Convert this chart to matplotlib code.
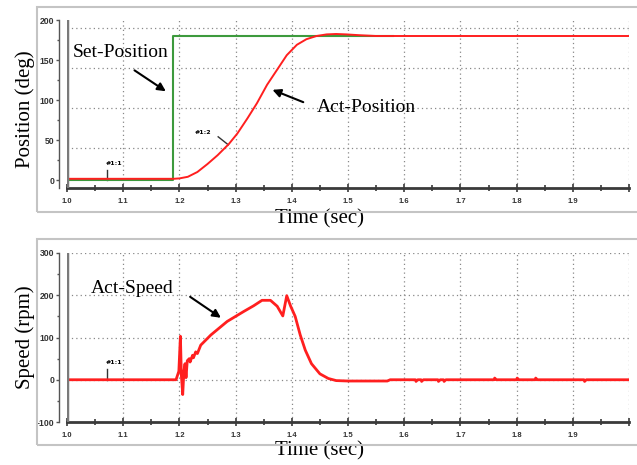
import matplotlib.pyplot as plt
from matplotlib.patches import Rectangle
from matplotlib.ticker import MultipleLocator

# set-position (deg)
set_t = [1.0, 1.189, 1.189, 1.58]
set_pos = [0, 0, 180, 180]

# actual position (deg)
pos_t = [1.0, 1.19, 1.20, 1.215, 1.232, 1.25, 1.268, 1.288, 1.303, 1.321, 1.338,
         1.356, 1.374, 1.391, 1.409, 1.426, 1.444, 1.462, 1.479, 1.497, 1.52, 1.55, 2.0]
pos = [1.5, 1.5, 2, 4, 10, 20, 31, 45, 58, 77, 96,
       119, 138, 156, 169, 176, 180, 182, 182.5, 182, 181, 180, 180]

# actual speed (rpm)
spd_t = [1.0, 1.194, 1.199, 1.2018, 1.2035, 1.2059, 1.208, 1.210, 1.2118, 1.214, 1.2176,
         1.219, 1.2235, 1.225, 1.229, 1.232, 1.238, 1.256, 1.285, 1.315, 1.332, 1.347,
         1.362, 1.374, 1.384, 1.391, 1.398, 1.406, 1.415, 1.424, 1.435, 1.45, 1.465,
         1.479, 1.50, 1.57, 1.575, 1.62, 1.621, 1.624, 1.63, 1.631, 1.634, 1.66, 1.661,
         1.664, 1.67, 1.671, 1.674, 1.76, 1.761, 1.764, 1.80, 1.801, 1.804, 1.833, 1.834,
         1.837, 1.92, 1.921, 1.924, 2.0]
spd = [0, 0, 20, 103, 10, -35, 20, 38, 5, 45, 50,
       42, 58, 52, 66, 62, 82, 106, 138, 162, 175, 188,
       188, 174, 151, 199, 174, 150, 106, 70, 38, 14, 3,
       -2, -3, -3, 0, 0, -4, 0, 0, -4, 0, 0, -4,
       0, 0, -4, 0, 0, 4, 0, 0, 4, 0, 0, 4,
       0, 0, -4, 0, 0]

xticks = [1.0, 1.1, 1.2, 1.3, 1.4, 1.5, 1.6, 1.7, 1.8, 1.9, 2.0]
xlabels = ['1.0', '1.1', '1.2', '1.3', '1.4', '1.5', '1.6', '1.7', '1.8', '1.9', '']

W, H = 637, 465
fig = plt.figure(figsize=(W / 100, H / 100), dpi=100)

# grey frames around each panel
for (x0, y0, x1, y1) in [(37, 7, 645, 212), (37, 239, 645, 445)]:
    fig.patches.append(Rectangle((x0 / W, 1 - y1 / H), (x1 - x0) / W, (y1 - y0) / H,
                                 transform=fig.transFigure, fill=False,
                                 ec='#c4c4c4', lw=1.5))

ax1 = fig.add_axes([67 / W, 1 - 188 / H, 562 / W, 168 / H])
ax2 = fig.add_axes([67 / W, 1 - 422 / H, 562 / W, 169 / H])

red = '#ff1f1f'
green = '#3d9a3d'
serif = 'Liberation Serif'
xtick_font = dict(family='Liberation Sans', weight='bold', size=5.5)
ytick_font = dict(family='Liberation Sans', weight='bold', size=6.2)
grid_kw = dict(ls=(0, (1, 2.5)), color='#888888', lw=0.9)


def style(ax, ylim, yticks, grid_y, xlab_y):
    # spine position first: it resets the tick setup
    for s in ['top', 'right']:
        ax.spines[s].set_visible(False)
    ax.spines['left'].set_position(('outward', 5.8))
    ax.spines['left'].set_color('#555555')
    ax.spines['left'].set_linewidth(1.0)
    ax.spines['bottom'].set_color('#3a3a3a')
    ax.spines['bottom'].set_linewidth(2.0)
    ax.set_xlim(1.0, 2.0)
    ax.set_ylim(*ylim)
    ax.set_xticks(xticks)
    ax.set_xticklabels(xlabels, **xtick_font, color='#333333')
    ax.xaxis.set_minor_locator(MultipleLocator(0.05))
    ax.set_yticks(yticks)
    ax.set_yticklabels([str(v) for v in yticks], **ytick_font, color='#333333')
    ax.yaxis.set_minor_locator(MultipleLocator((yticks[1] - yticks[0]) / 2))
    ax.tick_params(axis='x', which='major', direction='inout', length=6, width=1.2,
                   color='#3a3a3a', pad=4)
    ax.tick_params(axis='x', which='minor', direction='inout', length=4, width=1.2,
                   color='#3a3a3a')
    ax.tick_params(axis='y', which='major', direction='out', length=2.5, width=1,
                   color='#555555', pad=1)
    ax.tick_params(axis='y', which='minor', direction='out', length=1.5, width=1,
                   color='#555555')
    ax.grid(True, axis='x', which='major', **grid_kw)
    for g in grid_y:
        ax.axhline(g, zorder=1, **grid_kw)
    ax.axvline(1.0, color='#7a7a7a', lw=2.5, zorder=5)
    ax.set_xlabel('Time (sec)', family=serif, size=15)
    ax.xaxis.set_label_coords(0.45, xlab_y)


# position panel
style(ax1, (-10, 200), [0, 50, 100, 150, 200], [40, 90, 140, 190], -0.125)
ax1.plot(set_t, set_pos, color=green, lw=1.5, zorder=3)
ax1.plot(pos_t, pos, color=red, lw=1.4, zorder=4)
ax1.set_ylabel('Position (deg)', family=serif, size=15)
ax1.yaxis.set_label_coords(-0.057, 0.47)

ax1.text(1.096, 159, 'Set-Position', family=serif, size=14, ha='center', va='center')
ax1.annotate('', xy=(1.180, 109), xytext=(1.116, 139),
             arrowprops=dict(arrowstyle='-|>', color='black', lw=1.5,
                             mutation_scale=12))
ax1.text(1.532, 90, 'Act-Position', family=serif, size=14, ha='center', va='center')
ax1.annotate('', xy=(1.361, 114), xytext=(1.425, 96),
             arrowprops=dict(arrowstyle='-|>', color='black', lw=1.5,
                             mutation_scale=12))
ax1.plot([1.0717, 1.0717], [0, 12], color='#333333', lw=1)
ax1.text(1.084, 21, '#1:1', ha='center', va='center', size=4.5, weight='bold')
ax1.plot([1.269, 1.287], [54, 44], color='#333333', lw=1)
ax1.text(1.242, 59, '#1:2', ha='center', va='center', size=4.5, weight='bold')

# speed panel
style(ax2, (-100, 300), [-100, 0, 100, 200, 300], [0, 100, 200, 300], -0.115)
ax2.plot(spd_t, spd, color=red, lw=2.0, zorder=4)
ax2.set_ylabel('Speed (rpm)', family=serif, size=15)
ax2.yaxis.set_label_coords(-0.057, 0.50)

ax2.text(1.116, 217, 'Act-Speed', family=serif, size=14, ha='center', va='center')
ax2.annotate('', xy=(1.278, 143), xytext=(1.215, 200),
             arrowprops=dict(arrowstyle='-|>', color='black', lw=1.5,
                             mutation_scale=12))
ax2.plot([1.0717, 1.0717], [0, 26], color='#333333', lw=1)
ax2.text(1.084, 40, '#1:1', ha='center', va='center', size=4.5, weight='bold')

fig.savefig('out.png', dpi=100)
